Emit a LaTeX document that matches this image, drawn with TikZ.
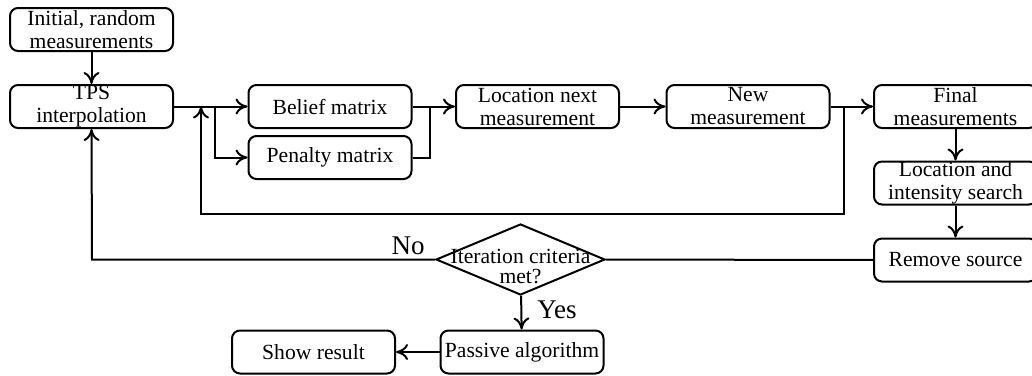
\documentclass[tikz,border=0pt]{standalone}
\usepackage{fontspec}
\setmainfont{Liberation Serif}
\usetikzlibrary{arrows.meta,shapes.geometric}
\begin{document}
\begin{tikzpicture}[x=0.5pt,y=-0.5pt,
  box/.style={draw,rounded corners=4pt,line width=1pt,minimum width=81.5pt,minimum height=21.5pt,inner sep=0pt,align=center,font=\fontsize{10.8}{11.5}\selectfont},
  dec/.style={draw,diamond,line width=1pt,minimum width=84.5pt,minimum height=35.5pt,inner sep=0pt,font=\fontsize{10.8}{11.5}\selectfont},
  conn/.style={line width=1pt},
  arr/.style={conn,-{To[length=6pt,width=8pt,line width=1pt]}},
  lbl/.style={font=\fontsize{13.5}{15}\selectfont,inner sep=0pt}]
\useasboundingbox (0,0) rectangle (1032,375);
\node[box] (init) at (91.5,29.5) {Initial, random\\measurements};
\node[box] (tps) at (91.5,106.5) {TPS\\interpolation};
\node[box] (bel) at (330,106.5) {Belief matrix};
\node[box] (pen) at (330,157.5) {Penalty matrix};
\node[box] (loc) at (537.5,106.5) {Location next\\measurement};
\node[box] (new) at (748,106.5) {New\\measurement};
\node[box] (fin) at (955.5,106.5) {Final\\measurements};
\node[box] (lis) at (955.5,183) {Location and\\intensity search};
\node[box] (rem) at (955.5,260) {Remove source};
\node[dec] (it) at (520.5,259.5) {\makebox[0pt]{\smash{\raisebox{-7.5pt}{\begin{tabular}{@{}c@{}}Iteration criteria\\[-1.5pt]met?\end{tabular}}}}};
\node[box] (pas) at (522,352) {Passive algorithm};
\node[box] (show) at (313.5,352) {Show result};
\coordinate (j1) at (215,106.5);
\coordinate (j2) at (430,106.5);
\coordinate (j3) at (844,106.5);
\coordinate (fbR) at (844,214);
\coordinate (fbL) at (201,214);
\coordinate (fbT) at (201,106.5);
\coordinate (nL) at (92,259.5);
\draw[arr] (init) -- (tps);
\draw[arr] (tps) -- (bel);
\draw[arr] (j1) |- (pen);
\draw[conn] (pen.east) -| (j2);
\draw[arr] (bel) -- (loc);
\draw[arr] (loc) -- (new);
\draw[arr] (new) -- (fin);
\draw[arr] (j3) -- (fbR) -- (fbL) -- (fbT);
\draw[arr] (fin) -- (lis);
\draw[arr] (lis) -- (rem);
\draw[conn] (rem) -- (it);
\draw[arr] (it.west) -- (nL) -- (tps.south);
\draw[arr] (it) -- (pas);
\draw[arr] (pas) -- (show);
\node[lbl] (no) at (408,246) {No};
\node[lbl] (yes) at (557,310) {Yes};
\end{tikzpicture}
\end{document}
